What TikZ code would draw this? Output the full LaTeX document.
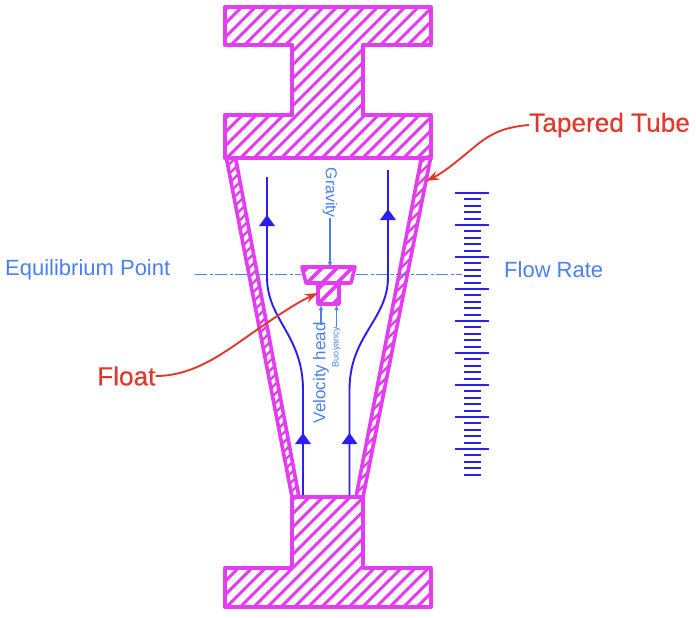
\documentclass[tikz,border=0pt]{standalone}
\usepackage{fontspec}
\setmainfont{Liberation Sans}
\newfontfamily\redfont[FakeBold=0.35]{Liberation Sans}
\usetikzlibrary{arrows.meta}
\definecolor{mag}{HTML}{E23DF0}
\definecolor{flow}{HTML}{2A1FF0}
\definecolor{lblue}{HTML}{4A80F0}
\definecolor{lred}{HTML}{E0392B}
\newcommand{\hatchwidth}{3}
\newcommand{\hatchphase}{4}
\newcommand{\outlinewidth}{3}
\newcommand{\hatchfill}[2][13.6]{%
  \begin{scope}
    \clip #2;
    \foreach \c in {0,#1,...,1100}{\draw[hatch] (\c+\hatchphase,0) -- (\c+\hatchphase-640,640);}
  \end{scope}
  \draw[partline] #2;}
\tikzset{
  hatch/.style={mag,line width=\hatchwidth pt},
  partline/.style={mag,line width=\outlinewidth pt,line join=round},
  flowline/.style={flow,line width=1.9pt},
  flowhead/.style={flow,fill=flow,draw=none},
  tick/.style={flow,line width=2pt},
  axis/.style={lblue,line width=1.3pt,dash pattern=on 12pt off 2.5pt on 3pt off 2.5pt},
  force/.style={lblue,line width=1.3pt,-{Latex[length=5pt,width=4.5pt]}},
  lead/.style={lred,line width=1.9pt,-{Stealth[length=13pt,width=9pt]}},
  bluelabel/.style={lblue,inner sep=0pt,font=\fontsize{22}{22}\selectfont},
  redlabel/.style={lred,inner sep=0pt,font=\redfont\fontsize{26.2}{26}\selectfont},
  forcelabel/.style={lblue,inner sep=0pt}
}
\begin{document}
\begin{tikzpicture}[x=1pt,y=-1pt]
\useasboundingbox (0,0) rectangle (696,618);
% tube walls
\renewcommand{\hatchwidth}{2.4}
\renewcommand{\outlinewidth}{3.6}
\hatchfill[9.5]{(226,156) -- (236,160) -- (299,497) -- (292,497) -- cycle}
\hatchfill[9.5]{(431,156) -- (421,160) -- (356,497) -- (363,497) -- cycle}
\renewcommand{\hatchwidth}{3}
\renewcommand{\outlinewidth}{3.3}
% upper body
\hatchfill{(225,7) -- (431,7) -- (431,45) -- (363,45) -- (363,115) -- (431,115) -- (431,158) -- (225,158) -- (225,115) -- (292,115) -- (292,45) -- (225,45) -- cycle}
% lower body
\hatchfill{(292,497) -- (363,497) -- (363,568) -- (431,568) -- (431,607) -- (225,607) -- (225,568) -- (292,568) -- cycle}
% float
\renewcommand{\hatchwidth}{3.6}
\renewcommand{\outlinewidth}{3.6}
\renewcommand{\hatchphase}{5}
\hatchfill[15]{(302,267) -- (355,267) -- (351,283) -- (306,283) -- cycle}
\renewcommand{\hatchphase}{7}
\hatchfill[15]{(318,283) -- (339,283) -- (339,304) -- (318,304) -- cycle}
% axis
\coordinate (axL) at (195,274.5);
\coordinate (axR) at (462,274.5);
\draw[axis] (axL) -- (301,274.5);
\draw[axis] (356,274.5) -- (axR);
% flow lines
\coordinate (fa1) at (267,177);
\coordinate (fa2) at (267,277);
\coordinate (fa3) at (303,390);
\coordinate (fa4) at (303,495);
\draw[flowline] (fa1) -- (fa2) .. controls (267,320) and (303,335) .. (fa3) -- (fa4);
\coordinate (fb1) at (388,170);
\coordinate (fb2) at (388,277);
\coordinate (fb3) at (349.5,390);
\coordinate (fb4) at (349.5,495);
\draw[flowline] (fb1) -- (fb2) .. controls (388,320) and (349.5,335) .. (fb3) -- (fb4);
\fill[flowhead] (267,215) -- (275,226) -- (259,226) -- cycle;
\fill[flowhead] (388,209) -- (396,220) -- (380,220) -- cycle;
\fill[flowhead] (303,433) -- (311,444) -- (295,444) -- cycle;
\fill[flowhead] (349.5,433) -- (357.5,444) -- (341.5,444) -- cycle;
% scale
\foreach \i in {0,...,7}{
  \draw[tick] (455,193+32*\i) -- (489,193+32*\i);
  \foreach \j in {1,...,4}{\draw[tick] (464,193+32*\i+6.4*\j) -- (481,193+32*\i+6.4*\j);}
}
\draw[tick] (455,449) -- (489,449);
\foreach \j in {1,...,4}{\draw[tick] (464,449+6.4*\j) -- (481,449+6.4*\j);}
% force labels
\node[forcelabel,rotate=-90,anchor=east,font=\fontsize{15.8}{16}\selectfont] (grav) at (330,218) {Gravity};
\coordinate (gravTip) at (330,267);
\draw[force] (330,218) -- (gravTip);
\node[forcelabel,rotate=90,anchor=east,font=\fontsize{17}{17}\selectfont] (vel) at (321,322) {Velocity head};
\coordinate (velTip) at (321,305);
\draw[force] (321,325) -- (velTip);
\node[forcelabel,rotate=90,anchor=east,font=\fontsize{9.1}{10}\selectfont] (buoy) at (336.5,327) {Buoyancy};
\coordinate (buoyTip) at (336.5,305);
\draw[force] (buoy.east) -- (buoyTip);
% text labels
\node[bluelabel,anchor=west] (eq) at (5,270) {Equilibrium Point};
\node[bluelabel,anchor=west] (fr) at (504,270) {Flow Rate};
\node[redlabel,anchor=west] (tt) at (529,125) {Tapered Tube};
\node[redlabel,anchor=west] (fl) at (97,376) {Float};
\coordinate (ttTip) at (426,181);
\coordinate (flTip) at (318,293);
\draw[lead] (tt.west) .. controls (505,127) and (492,133) .. (478,144) .. controls (462,157) and (445,172) .. (ttTip);
\draw[lead] (fl.east) .. controls (195,376) and (225,352) .. (258,329) .. controls (280,314) and (298,302) .. (flTip);
\end{tikzpicture}
\end{document}
